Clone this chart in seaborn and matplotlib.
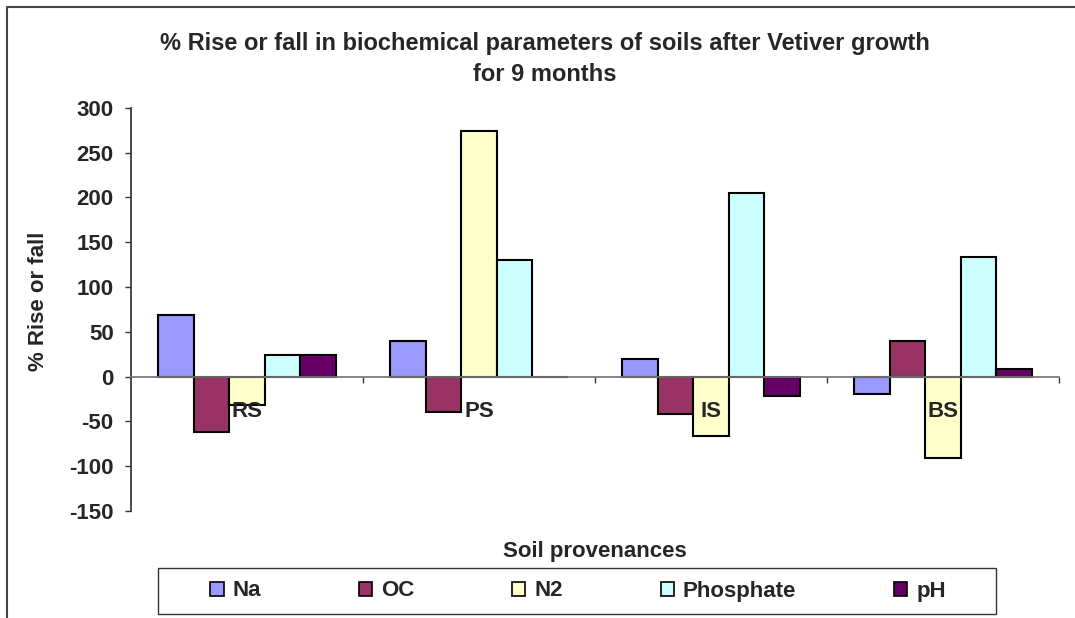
"""
% rise or fall in soil biochemical parameters after Vetiver growth
"""
import matplotlib.pyplot as plt
import matplotlib.lines as mlines
import matplotlib.patches as mpatches
import matplotlib.transforms as mtransforms
import pandas as pd
import seaborn as sns
from matplotlib.ticker import FixedLocator

# values
soils = ["RS", "PS", "IS", "BS"]
params = ["Na", "OC", "N2", "Phosphate", "pH"]
na = [69, 40, 20, -20]
oc = [-62, -39, -42, 40]
n2 = [-32, 274, -66, -91]
phosphate = [24, 130, 205, 133]
ph = [24, 0, -22, 8]
colors = ["#9999FF", "#993366", "#FFFFCC", "#CCFFFF", "#660066"]
yticks = [-150, -100, -50, 0, 50, 100, 150, 200, 250, 300]

# long-form table for seaborn
rows = []
for name, vals in zip(params, [na, oc, n2, phosphate, ph]):
    for soil, v in zip(soils, vals):
        rows.append({"Soil": soil, "Parameter": name, "Value": v})
df = pd.DataFrame(rows)

sns.set_theme(style="white")
plt.rcParams["font.family"] = ["Liberation Sans", "DejaVu Sans"]
plt.rcParams["font.weight"] = "bold"
FS = 16

W, H = 1075, 618
fig = plt.figure(figsize=(W / 100, H / 100), dpi=100)
ax = fig.add_axes([131 / W, 1 - 511 / H, (1059 - 131) / W, (511 - 107.7) / H])

sns.barplot(data=df, x="Soil", y="Value", hue="Parameter", order=soils,
            hue_order=params, palette=colors, width=0.765, gap=0,
            edgecolor="black", linewidth=1.5, saturation=1, errorbar=None,
            legend=False, ax=ax)

ax.set_xlim(-0.5, 3.5)
ax.set_ylim(-150, 300)
ax.set_yticks(yticks)
ax.set_yticklabels([str(t) for t in yticks], fontsize=FS, fontweight="bold")
ax.tick_params(axis="y", direction="out", length=4.5, width=1, color="#333333",
               pad=8, left=True)

# category axis sits on the zero line
ax.spines["bottom"].set_position(("data", 0))
ax.spines["bottom"].set_color("#777777")
ax.spines["left"].set_color("#333333")
ax.spines["top"].set_visible(False)
ax.spines["right"].set_visible(False)
ax.set_xticks(range(len(soils)))
ax.set_xticklabels([])
ax.xaxis.set_minor_locator(FixedLocator([0.5, 1.5, 2.5, 3.5]))
ax.tick_params(axis="x", which="major", length=0)
ax.tick_params(axis="x", which="minor", direction="out", length=4.5, width=1,
               color="#333333", bottom=True)
ax.set_xlabel("")
ax.set_ylabel("")

# category names drawn on top of the bars, just under the zero line
offset = mtransforms.ScaledTranslation(0, -35 / 100, fig.dpi_scale_trans)
for i, soil in enumerate(soils):
    ax.text(i, 0, soil, transform=ax.transData + offset, ha="center",
            va="center", fontsize=FS, fontweight="bold", zorder=10)

# titles and axis names
fig.text(545 / W, 1 - 59 / H,
         "% Rise or fall in biochemical parameters of soils after Vetiver growth\nfor 9 months",
         ha="center", va="center", fontsize=17, fontweight="bold", linespacing=1.4)
fig.text(38 / W, 1 - 301 / H, "% Rise or fall", rotation=90, ha="center",
         va="center", fontsize=FS, fontweight="bold")
fig.text(595 / W, 1 - 551 / H, "Soil provenances", ha="center", va="center",
         fontsize=FS, fontweight="bold")

# legend in its own box
handles = [mpatches.Patch(facecolor=c, edgecolor="black", linewidth=1.2, label=p)
           for c, p in zip(colors, params)]
fig.legend(handles=handles, loc="center", bbox_to_anchor=(578 / W, 1 - 591 / H),
           ncol=5, frameon=False, handlelength=0.6, handleheight=0.6,
           handletextpad=0.4, columnspacing=4.4,
           prop={"weight": "bold", "size": FS})
fig.patches.append(mpatches.Rectangle((158 / W, 1 - 614 / H), (996 - 158) / W,
                                      (614 - 568) / H, transform=fig.transFigure,
                                      fill=False, edgecolor="#333333", linewidth=1))

# outer chart border (left and top only are visible in the crop)
fig.lines.append(mlines.Line2D([7 / W, 7 / W, 1.0], [0.0, 1 - 7 / H, 1 - 7 / H],
                               transform=fig.transFigure, color="#444444",
                               linewidth=1.5))

fig.savefig("out.png", dpi=100)
